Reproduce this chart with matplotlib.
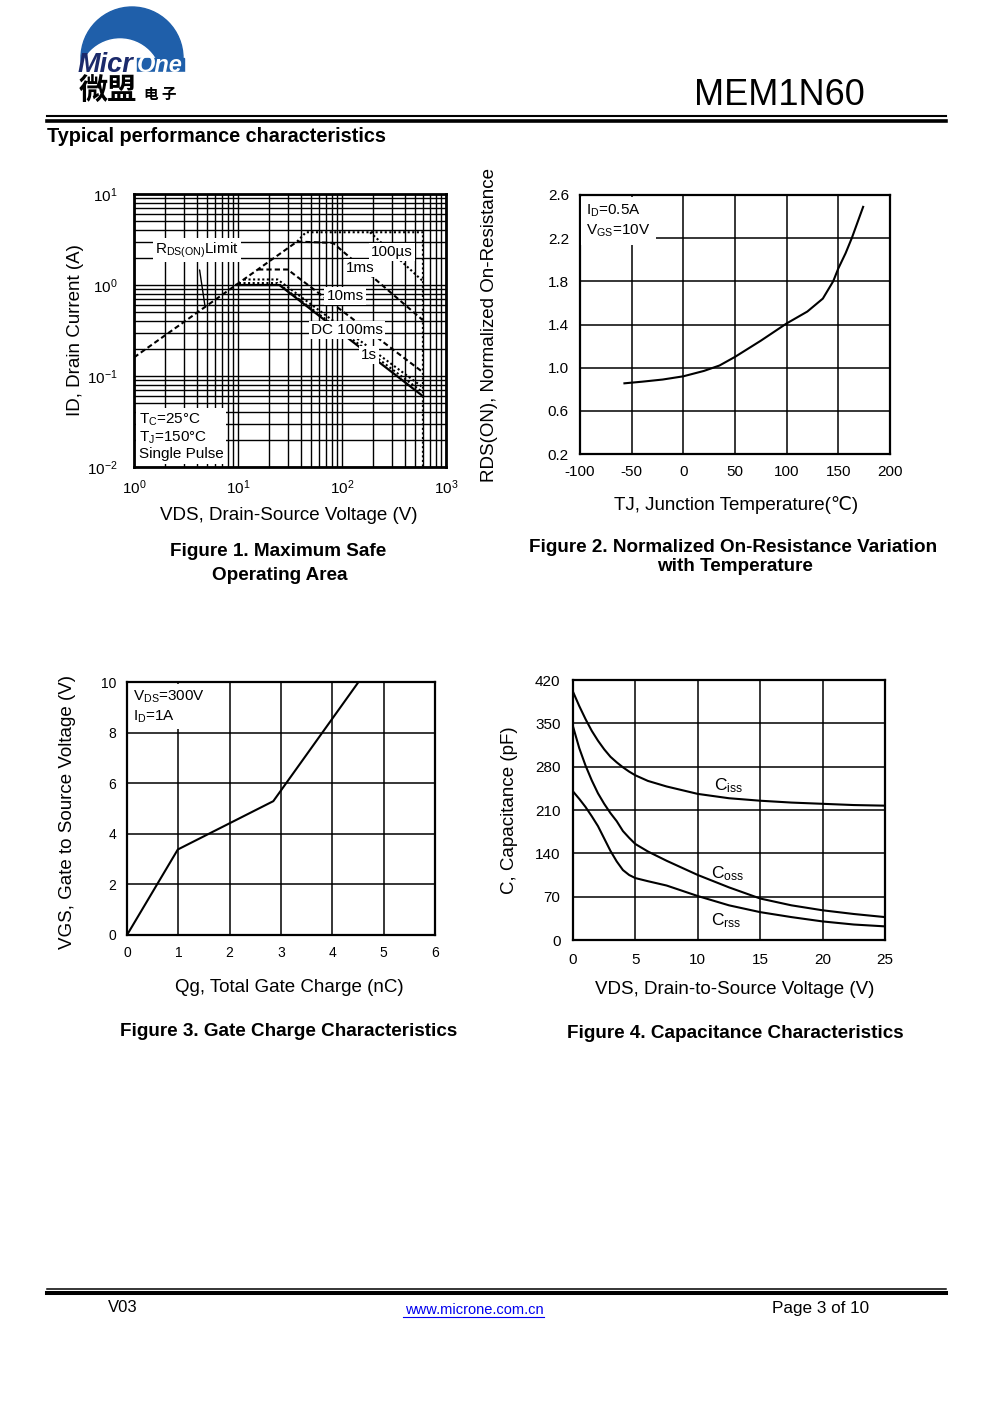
import numpy as np
import matplotlib
matplotlib.use('Agg')
import matplotlib.pyplot as plt
from matplotlib.patches import Circle, Rectangle

plt.rcParams['font.family'] = ['Liberation Sans', 'DejaVu Sans', 'Noto Sans CJK SC']
plt.rcParams['mathtext.fontset'] = 'custom'
plt.rcParams['mathtext.rm'] = 'Liberation Sans'
plt.rcParams['mathtext.it'] = 'Liberation Sans:italic'
plt.rcParams['mathtext.bf'] = 'Liberation Sans:bold'
plt.rcParams['mathtext.default'] = 'regular'
plt.rcParams['axes.unicode_minus'] = False

W, H = 991, 1403

# ---- Figure 1: safe operating area (VDS in V, ID in A)
rds_v = [1, 37]
rds_i = [0.16, 3.0]
bound_v = [37, 45, 600, 600]
bound_i = [3.0, 3.8, 3.8, 0.01]
us100_v = [186, 600]
us100_i = [3.8, 1.1]
ms1_v = [37, 82, 600]
ms1_i = [3.0, 2.9, 0.41]
ms10_v = [15.6, 30, 600]
ms10_i = [1.48, 1.48, 0.11]
ms100_v = [11.4, 24, 600]
ms100_i = [1.15, 1.15, 0.075]
s1_v = [10.2, 24, 600]
s1_i = [1.05, 1.05, 0.066]
dc_v = [9.6, 25, 600]
dc_i = [1.0, 1.0, 0.06]

# ---- Figure 2: normalized RDS(on) vs junction temperature
temp = [-57, -40, -20, 0, 20, 35, 50, 75, 100, 120, 135, 145, 150, 157, 163, 174]
rnorm = [0.855, 0.87, 0.89, 0.92, 0.97, 1.02, 1.10, 1.25, 1.41, 1.52, 1.64, 1.80, 1.92, 2.06, 2.2, 2.49]

# ---- Figure 3: gate charge
qg = [0, 0.99, 2.85, 4.51]
vgs = [0, 3.38, 5.29, 10]

# ---- Figure 4: capacitance vs VDS
vds4 = [0, 0.5, 1, 1.5, 2, 2.5, 3, 3.5, 4, 4.5, 5, 6, 7.5, 10, 12.5, 15, 17.5, 20, 22.5, 25]
ciss = [401, 378, 357, 338, 322, 308, 296, 287, 279, 272, 266, 257, 248, 236, 229, 225, 222, 220, 218, 217]
coss = [345, 310, 282, 258, 237, 220, 205, 192, 176, 165, 155, 143, 128, 105, 85, 67, 56, 48, 42, 37]
crss = [240, 228, 215, 200, 184, 164, 144, 127, 113, 105, 100, 95, 88, 71, 56, 45, 37, 30, 25, 22]


def box(l, t, r, b):
    return [l / W, 1 - b / H, (r - l) / W, (b - t) / H]


fig = plt.figure(figsize=(W / 100, H / 100), dpi=100)


def ftext(x, y, s, **kw):
    return fig.text(x / W, 1 - y / H, s, **kw)


# ---- page decoration (header / footer / logo)
deco = fig.add_axes([0, 0, 1, 1])
deco.set_xlim(0, W)
deco.set_ylim(H, 0)
deco.axis('off')

deco.add_patch(Circle((132, 58), 51, color='#1f5faa', zorder=1))
deco.add_patch(Circle((120, 80), 41, color='white', zorder=2))
deco.add_patch(Rectangle((137, 58), 47, 14, color='#1f5faa', zorder=2))
deco.add_patch(Rectangle((70, 72), 125, 38, color='white', zorder=3))
deco.text(78, 72, 'Micr', color='#1b2a6b', fontsize=19.5, fontweight='bold',
          fontstyle='italic', va='baseline', zorder=4)
deco.text(137, 72, 'One', color='white', fontsize=17, fontweight='bold',
          fontstyle='italic', va='baseline', zorder=4)
deco.text(79, 100, '微盟', family=['Noto Sans CJK SC'], fontsize=21,
          fontweight='bold', va='baseline', zorder=4)
deco.text(144, 99, '电 子', family=['Noto Sans CJK SC'], fontsize=10.5,
          fontweight='bold', va='baseline', zorder=4)

deco.plot([47, 946], [116, 116], color='black', lw=1.5)
deco.plot([47, 946], [121, 121], color='black', lw=2.6)
deco.plot([47, 946], [1288.8, 1288.8], color='black', lw=1.1)
deco.plot([47, 946], [1293, 1293], color='black', lw=2.9)
deco.plot([403, 544], [1316.5, 1316.5], color='#0000ee', lw=0.8)

ftext(694, 105, 'MEM1N60', fontsize=26, va='baseline')
ftext(47, 142, 'Typical performance characteristics', fontsize=14.3,
      fontweight='bold', va='baseline')
ftext(108, 1308, 'V03', fontsize=12, va='center')
ftext(474, 1310, 'www.microne.com.cn', fontsize=10.5, color='#0000ee',
      ha='center', va='center')
ftext(772, 1308, 'Page 3 of 10', fontsize=12.3, va='center')

white = dict(facecolor='white', edgecolor='none', pad=1.5)
lab = 13.5
ttl = 13.6

# ---- Figure 1
ax1 = fig.add_axes(box(134, 194, 446, 467))
ax1.set_xscale('log')
ax1.set_yscale('log')
ax1.set_xlim(1, 1000)
ax1.set_ylim(0.01, 10)
ax1.grid(which='both', color='black', lw=1.0)
ax1.tick_params(which='both', length=0, labelsize=11)
ax1.tick_params(axis='y', pad=12)
ax1.tick_params(axis='x', pad=8)
for s in ax1.spines.values():
    s.set_linewidth(2)
dash = dict(color='black', lw=1.5, dashes=(2.5, 1.5))
dot = dict(color='black', lw=1.5, dashes=(1, 1.2))
ax1.plot(rds_v, rds_i, **dash)
ax1.plot(bound_v, bound_i, **dot)
ax1.plot(us100_v, us100_i, **dot)
ax1.plot(ms1_v, ms1_i, **dash)
ax1.plot(ms10_v, ms10_i, **dash)
ax1.plot(ms100_v, ms100_i, **dot)
ax1.plot(s1_v, s1_i, **dot)
ax1.plot(dc_v, dc_i, color='black', lw=1.6)
ax1.annotate(r'R$_{DS(ON)}$Limit', xy=(4.8, 0.6), xytext=(4.0, 2.43),
             ha='center', va='center', fontsize=11, bbox=white,
             arrowprops=dict(arrowstyle='-', color='black', lw=1,
                             shrinkA=6, shrinkB=0))
for lbl, x, y in [('100µs', 302, 2.3), ('1ms', 149, 1.54), ('10ms', 107, 0.76),
                  ('DC 100ms', 112, 0.32), ('1s', 182, 0.17)]:
    ax1.text(x, y, lbl, ha='center', va='center', fontsize=11, bbox=white)
ax1.text(0.015, 0.022, 'T$_C$=25°C\nT$_J$=150°C\nSingle Pulse',
         transform=ax1.transAxes, fontsize=11, linespacing=1.1,
         va='bottom', ha='left', bbox=dict(facecolor='white', edgecolor='none', pad=2))

ftext(76, 330, 'ID, Drain Current (A)', rotation=90, ha='center', va='center', fontsize=lab)
ftext(289, 515, 'VDS, Drain-Source Voltage (V)', ha='center', va='center', fontsize=lab)
ftext(278, 552, 'Figure 1. Maximum Safe', ha='center', va='center', fontsize=ttl, fontweight='bold')
ftext(280, 576, 'Operating Area', ha='center', va='center', fontsize=ttl, fontweight='bold')

# ---- Figure 2
ax2 = fig.add_axes(box(580, 195, 890, 454))
ax2.set_xlim(-100, 200)
ax2.set_ylim(0.2, 2.6)
ax2.set_xticks(np.arange(-100, 201, 50))
ax2.set_yticks(np.arange(0.2, 2.61, 0.4))
ax2.set_yticklabels(['0.2', '0.6', '1.0', '1.4', '1.8', '2.2', '2.6'])
ax2.grid(color='black', lw=1.1)
ax2.tick_params(length=0, labelsize=11, pad=8)
for s in ax2.spines.values():
    s.set_linewidth(1.6)
ax2.plot(temp, rnorm, color='black', lw=1.5)
ax2.text(0.02, 0.97, 'I$_D$=0.5A\nV$_{GS}$=10V', transform=ax2.transAxes,
         fontsize=11, va='top', ha='left', linespacing=1.3,
         bbox=dict(facecolor='white', edgecolor='none', pad=4))
ftext(490, 325, 'RDS(ON), Normalized On-Resistance', rotation=90, ha='center',
      va='center', fontsize=lab)
ftext(736, 505, 'TJ, Junction Temperature(℃)', ha='center', va='center', fontsize=lab)
ftext(733, 548, 'Figure 2. Normalized On-Resistance Variation', ha='center',
      va='center', fontsize=ttl, fontweight='bold')
ftext(735, 567, 'with Temperature', ha='center', va='center', fontsize=ttl, fontweight='bold')

# ---- Figure 3
ax3 = fig.add_axes(box(127, 682, 435, 935))
ax3.set_xlim(0, 6)
ax3.set_ylim(0, 10)
ax3.set_xticks(range(0, 7))
ax3.set_yticks(range(0, 11, 2))
ax3.grid(color='black', lw=1.1)
ax3.tick_params(length=0, labelsize=10, pad=8)
for s in ax3.spines.values():
    s.set_linewidth(1.6)
ax3.plot(qg, vgs, color='black', lw=1.5)
ax3.text(0.02, 0.975, 'V$_{DS}$=300V\nI$_D$=1A', transform=ax3.transAxes,
         fontsize=11, va='top', ha='left', linespacing=1.3,
         bbox=dict(facecolor='white', edgecolor='none', pad=3))
ftext(68, 812, 'VGS, Gate to Source Voltage (V)', rotation=90, ha='center',
      va='center', fontsize=lab)
ftext(289, 988, 'Qg, Total Gate Charge (nC)', ha='center', va='center', fontsize=lab)
ftext(289, 1031, 'Figure 3. Gate Charge Characteristics', ha='center', va='center',
      fontsize=ttl, fontweight='bold')

# ---- Figure 4
ax4 = fig.add_axes(box(573, 680, 885, 940))
ax4.set_xlim(0, 25)
ax4.set_ylim(0, 420)
ax4.set_xticks(range(0, 26, 5))
ax4.set_yticks(range(0, 421, 70))
ax4.grid(color='black', lw=1.1)
ax4.tick_params(length=0, labelsize=11, pad=9)
for s in ax4.spines.values():
    s.set_linewidth(1.6)
for series in (ciss, coss, crss):
    ax4.plot(vds4, series, color='black', lw=1.5)
ax4.text(12.5, 249, 'C$_{iss}$', ha='center', va='center', fontsize=12.5)
ax4.text(12.4, 107, 'C$_{oss}$', ha='center', va='center', fontsize=12.5)
ax4.text(12.3, 31, 'C$_{rss}$', ha='center', va='center', fontsize=12.5)
ftext(510, 810, 'C, Capacitance (pF)', rotation=90, ha='center', va='center', fontsize=lab)
ftext(735, 990, 'VDS, Drain-to-Source Voltage (V)', ha='center', va='center', fontsize=lab)
ftext(735, 1033, 'Figure 4. Capacitance Characteristics', ha='center', va='center',
      fontsize=ttl, fontweight='bold')

fig.savefig('out.png', dpi=100)
